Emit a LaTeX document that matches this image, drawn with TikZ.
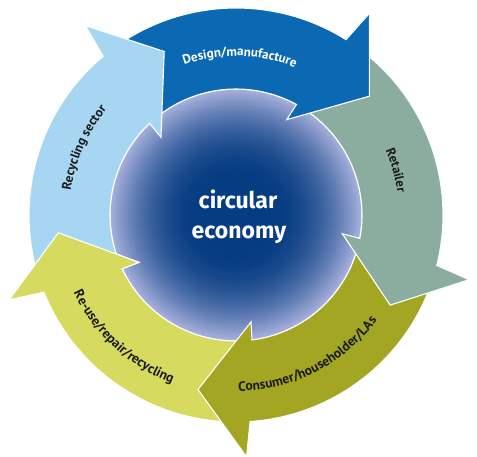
\documentclass[tikz,border=0pt]{standalone}
\usepackage{fontspec}
\setmainfont{PT Sans}
\newfontfamily\cecenterfont{Fira Sans}
\usetikzlibrary{decorations.text}

\definecolor{cdesign}{HTML}{0B69B3}
\definecolor{cretailer}{HTML}{8BAD9F}
\definecolor{cconsumer}{HTML}{A3A623}
\definecolor{creuse}{HTML}{D6DA5E}
\definecolor{crecycle}{HTML}{A6D6F2}
\definecolor{clabel}{HTML}{1A1A1A}
\definecolor{ccoredark}{HTML}{063C82}
\definecolor{ccorelight}{HTML}{A8B0DC}

\newcommand\celabelfont{\bfseries\fontsize{13}{15}\selectfont}
\newcommand\celabelfontb{\bfseries\fontsize{13.5}{15}\selectfont}

% #1 = tip angle, #2 = colour
\newcommand\cearrow[2]{%
  \fill[#2, arrowshape]
    ({#1+89}:207pt) arc[start angle={#1+89}, end angle={#1+16.2}, radius=207pt]
    -- ({#1+14.8}:242pt) -- (#1:178.6pt) -- ({#1+20.3}:108pt) -- ({#1+19.6}:126pt)
    arc[start angle={#1+19.6}, end angle={#1+89}, radius=126pt] -- cycle;}

\begin{document}
\begin{tikzpicture}[
  arrowshape/.style={draw=white, line width=1.1pt, line join=miter, miter limit=10},
  lbl/.style={decorate, decoration={text along path, text align=center, text color=clabel, text={|\celabelfont|#1}}},
  lblb/.style={decorate, decoration={text along path, text align=center, text color=clabel, text={|\celabelfontb|#1}}},
  lblw/.style={decorate, decoration={text along path, text align=center, text color=white, text={|\celabelfont|#1}}}
]
\useasboundingbox (-236pt,-241pt) rectangle (241pt,215pt);

% inner circle with a radial gradient built from concentric discs
\node[circle, inner sep=0pt, minimum size=252pt] (core) at (0,0) {};
\foreach \cei in {0,...,90} {
  \pgfmathsetmacro\cer{126*(1-\cei/90)+0.01}
  \pgfmathsetmacro\cet{max(\cer/126-0.3,0.001)}
  \pgfmathsetmacro\cep{min(100*(\cet/0.7)^1.9,100)}
  \fill[ccorelight!\cep!ccoredark] (core.center) circle[radius=\cer pt];
}
\draw[white, line width=1.1pt] (core.center) circle[radius=126pt];

% ring arrows
\cearrow{-174.3}{creuse}
\cearrow{-102.3}{cconsumer}
\cearrow{-30.3}{cretailer}
\cearrow{41.7}{cdesign}
\cearrow{113.7}{crecycle}
\begin{scope}
  \clip (0,0) -- (172:270pt) arc[start angle=172, end angle=218, radius=270pt] -- cycle;
  \cearrow{-174.3}{creuse}
\end{scope}

% labels along the ring
\path[lblw={Design/manufacture}] (128.6:159pt) arc[start angle=128.6, end angle=48.6, radius=159pt];
\path[lbl={Retailer}] (55.6:163pt) arc[start angle=55.6, end angle=-24.4, radius=163pt];
\path[lblb={Consumer/householder/LAs}] (-103:176pt) arc[start angle=-103, end angle=-23, radius=176pt];
\path[lblb={Re-use/repair/recycling}] (187.4:180pt) arc[start angle=187.4, end angle=267.4, radius=180pt];
\path[lbl={Recycling sector}] (196.2:167pt) arc[start angle=196.2, end angle=116.2, radius=167pt];

% centre text
\node[anchor=base, text=white, font=\cecenterfont\bfseries\fontsize{23}{27}\selectfont] (ce1) at (2pt,7pt) {circular};
\node[anchor=base, text=white, font=\cecenterfont\bfseries\fontsize{23}{27}\selectfont] (ce2) at (3pt,-23pt) {economy};
\end{tikzpicture}
\end{document}
